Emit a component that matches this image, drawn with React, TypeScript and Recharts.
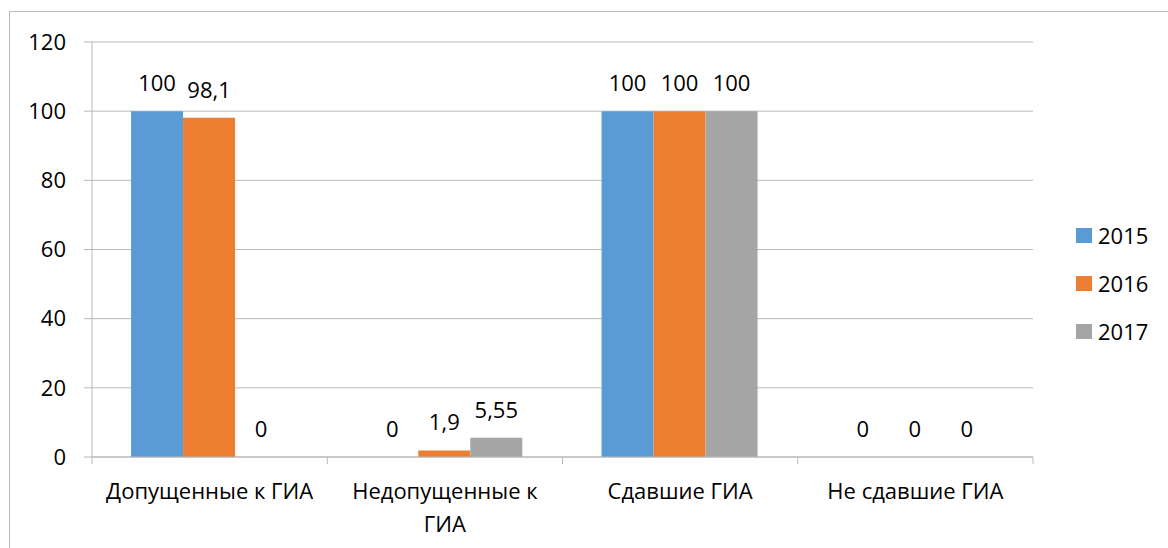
import React from 'react';
import { BarChart, Bar, XAxis, YAxis, CartesianGrid, LabelList } from 'recharts';

const categories = ['Допущенные к ГИА', 'Недопущенные к ГИА', 'Сдавшие ГИА', 'Не сдавшие ГИА'];
const years = ['2015', '2016', '2017'];
const values2015 = [100, 0, 100, 0];
const values2016 = [98.1, 1.9, 100, 0];
const values2017 = [0, 5.55, 100, 0];
const yTicks = [0, 20, 40, 60, 80, 100, 120];
const colors = ['#5B9BD5', '#ED7D31', '#A5A5A5'];

const FONT = '"Open Sans", sans-serif';
const FONT_SIZE = 22;
const LINE = '#b8b8b8';
const PLOT_WIDTH = 941;
const BAND = PLOT_WIDTH / categories.length;
const WRAP_WIDTH = 224;

const data = categories.map((name, i) => ({
  name,
  y2015: values2015[i],
  y2016: values2016[i],
  y2017: values2017[i],
}));

const fmt = (v: any) => String(v).replace('.', ',');

// greedy word wrap measured with a canvas
function wrap(label: string): string[] {
  const ctx = document.createElement('canvas').getContext('2d');
  if (!ctx) return [label];
  ctx.font = `${FONT_SIZE}px ${FONT}`;
  const words = label.split(' ');
  const lines: string[] = [];
  let cur = '';
  words.forEach((w) => {
    const next = cur ? `${cur} ${w}` : w;
    if (cur && ctx.measureText(next).width > WRAP_WIDTH) {
      lines.push(cur);
      cur = w;
    } else {
      cur = next;
    }
  });
  if (cur) lines.push(cur);
  return lines;
}

function CategoryTick(props: any) {
  const { x, y, payload, index } = props;
  const lines = wrap(String(payload.value));
  return (
    <g>
      {index === 0 && (
        <line x1={x - BAND / 2} x2={x - BAND / 2} y1={y - 7} y2={y} stroke={LINE} />
      )}
      <line x1={x + BAND / 2} x2={x + BAND / 2} y1={y - 7} y2={y} stroke={LINE} />
      <text x={x} y={y + 35} textAnchor="middle" fontSize={FONT_SIZE} fontFamily={FONT} fill="#000">
        {lines.map((ln, i) => (
          <tspan key={i} x={x} dy={i === 0 ? 0 : 33}>
            {ln}
          </tspan>
        ))}
      </text>
    </g>
  );
}

export default function App() {
  return (
    <div
      style={{
        position: 'absolute',
        left: 0,
        top: 0,
        width: 1168,
        height: 548,
        overflow: 'hidden',
        background: '#fff',
        fontFamily: FONT,
      }}
    >
      {/* chart frame, only top and left edges are in view */}
      <div
        style={{
          position: 'absolute',
          left: 9,
          top: 11,
          width: 1200,
          height: 600,
          border: `1px solid ${LINE}`,
        }}
      />
      <div style={{ position: 'absolute', left: 0, top: 0 }}>
        <BarChart
          width={1168}
          height={548}
          data={data}
          margin={{ top: 42, right: 135, bottom: 0, left: 0 }}
          barCategoryGap="16.6%"
          barGap={0}
        >
          <CartesianGrid vertical={false} stroke={LINE} />
          <XAxis
            dataKey="name"
            height={91}
            axisLine={{ stroke: LINE }}
            tickLine={false}
            tickSize={7}
            tickMargin={0}
            interval={0}
            tick={<CategoryTick />}
          />
          <YAxis
            width={92}
            domain={[0, 120]}
            ticks={yTicks}
            axisLine={{ stroke: LINE }}
            tickLine={{ stroke: LINE }}
            tickSize={8}
            tickMargin={18}
            tick={{ fontSize: FONT_SIZE, fontFamily: FONT, fill: '#000' }}
          />
          {years.map((yr, i) => (
            <Bar
              key={yr}
              dataKey={`y${yr}`}
              name={yr}
              fill={colors[i]}
              minPointSize={0.01}
              isAnimationActive={false}
            >
              <LabelList
                dataKey={`y${yr}`}
                position="top"
                offset={20}
                formatter={fmt}
                style={{ fontSize: FONT_SIZE, fontFamily: FONT, fill: '#000' }}
              />
            </Bar>
          ))}
        </BarChart>
      </div>
      <div style={{ position: 'absolute', left: 1076, top: 223 }}>
        {years.map((yr, i) => (
          <div key={yr} style={{ display: 'flex', alignItems: 'center', height: 24, marginBottom: 24 }}>
            <span style={{ width: 16, height: 15, background: colors[i], marginRight: 6 }} />
            <span style={{ fontSize: FONT_SIZE, color: '#000', lineHeight: '24px' }}>{yr}</span>
          </div>
        ))}
      </div>
    </div>
  );
}
